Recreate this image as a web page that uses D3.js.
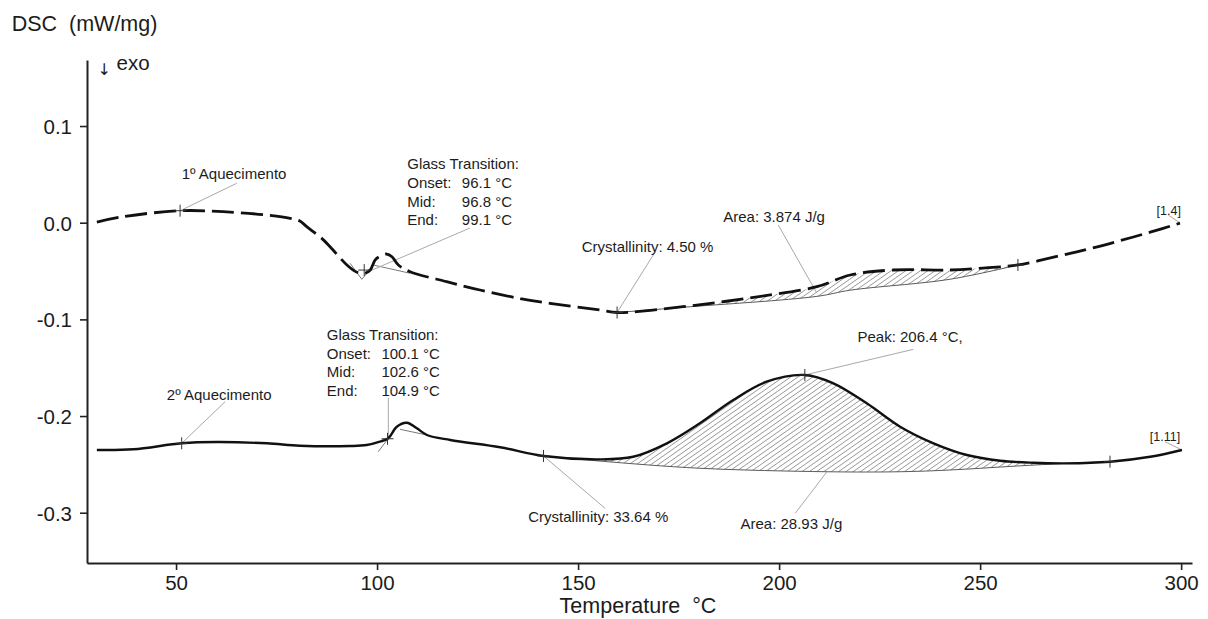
<!DOCTYPE html>
<html>
<head>
<meta charset="utf-8">
<script src="https://cdn.jsdelivr.net/npm/d3@7"></script>
<style>
  html, body { margin: 0; padding: 0; background: #fff; }
  svg { display: block; font-family: Arial, "Liberation Sans", sans-serif; }
</style>
</head>
<body>
<svg id="chart" width="1208" height="619"></svg>
<script>
// ---- DSC curves: temperature (°C) and heat flow (mW/mg) ----
const temp1 = [30.3, 36.8, 51.0, 61.7, 72.6, 78.4, 80.8, 82.5, 84.1, 85.8, 88.3, 92.5, 95.0, 97.0, 98.3, 99.5,
               100.8, 102.4, 103.7, 105.3, 108.2, 117.3, 125.6, 135.6, 143.0, 155.5, 159.7, 176.1, 192.8, 209.4,
               217.7, 228.4, 242.5, 250.7, 259.4, 269.9, 277.3, 284.8, 292.3, 299.7];
const dsc1  = [0.0007, 0.0062, 0.0124, 0.0114, 0.0079, 0.0045, 0.0017, -0.0041, -0.0093, -0.0145, -0.0248, -0.0437,
               -0.0513, -0.0523, -0.0489, -0.0386, -0.0345, -0.0324, -0.0352, -0.0438, -0.0507, -0.0610, -0.0696,
               -0.0785, -0.0834, -0.0903, -0.0929, -0.0869, -0.0777, -0.0662, -0.0541, -0.0489, -0.0489, -0.0469,
               -0.0437, -0.0341, -0.0269, -0.0186, -0.0098, -0.0005];

const temp2 = [30.3, 39.4, 51.4, 60.1, 72.6, 80.8, 93.3, 97.4, 100.7, 102.8, 104.9, 107.4, 109.9, 112.4, 118.2,
               130.6, 141.4, 155.5, 163.7, 172.1, 180.3, 188.6, 196.9, 206.4, 213.5, 221.8, 230.1, 238.4, 246.7,
               255.0, 263.2, 271.6, 282.3, 292.3, 300.2];
const dsc2  = [-0.2351, -0.2344, -0.2282, -0.2269, -0.2282, -0.2307, -0.2310, -0.2300, -0.2265, -0.2230, -0.2110,
               -0.2069, -0.2127, -0.2196, -0.2248, -0.2323, -0.2413, -0.2448, -0.2421, -0.2282, -0.2075, -0.1834,
               -0.1645, -0.1575, -0.1661, -0.1868, -0.2110, -0.2282, -0.2403, -0.2462, -0.2483, -0.2489, -0.2472,
               -0.2421, -0.2351];

// ---- integration baselines under the crystallisation peaks ----
const baseTemp1 = [159.7, 176.1, 209.4, 217.7, 242.5, 259.4];
const baseDsc1  = [-0.0929, -0.0875, -0.0762, -0.0698, -0.0585, -0.0437];
const baseTemp2 = [141.4, 155.5, 180.3, 211.9, 230.1, 242.5, 259.1, 271.6, 282.3];
const baseDsc2  = [-0.2413, -0.2466, -0.2540, -0.2576, -0.2576, -0.2558, -0.2517, -0.2489, -0.2472];

// ---- evaluation markers (+) ----
const marks1 = [[51.0, 0.0124], [96.8, -0.0490], [159.7, -0.0929], [259.4, -0.0437]];
const marks2 = [[51.4, -0.2282], [102.6, -0.2235], [141.4, -0.2413], [206.4, -0.1575], [282.3, -0.2472]];

// ---- glass transition tangents ----
const tangents = [
  [[93.3, -0.0420], [96.2, -0.0585]],
  [[96.2, -0.0585], [97.8, -0.0507]],
  [[99.1, -0.0438], [108.2, -0.0523]],
  [[100.3, -0.2369], [104.9, -0.2113]],
  [[105.7, -0.2137], [112.4, -0.2196]]
];

// ---- axis ticks ----
const xMajor = [50, 100, 150, 200, 250, 300];
const xTickLabels = ["50", "100", "150", "200", "250", "300"];
const xMinor = d3.range(30, 301, 10);
const yMajor = [-0.3, -0.2, -0.1, 0.0, 0.1];
const yTickLabels = ["-0.3", "-0.2", "-0.1", "0.0", "0.1"];
const yMinor = d3.range(-34, 17, 2).map(v => v / 100);

// ---- text annotations: [text, T, DSC] anchors and leader lines ----
const notes = [
  ["1º Aquecimento", 51.4, 0.0452],
  ["2º Aquecimento", 47.7, -0.1834],
  ["Crystallinity: 4.50 %", 150.9, -0.0300],
  ["Area: 3.874 J/g", 186.1, 0.0010],
  ["Peak: 206.4 °C,", 219.5, -0.1231],
  ["Crystallinity: 33.64 %", 137.6, -0.3091],
  ["Area: 28.93 J/g", 190.4, -0.3170]
];
const smallNotes = [
  ["[1.4]", 293.9, 0.0080],
  ["[1.11]", 292.2, -0.2255]
];
const gtLabels = ["Onset:", "Mid:", "End:"];
const gt1Values = ["96.1 °C", "96.8 °C", "99.1 °C"];
const gt2Values = ["100.1 °C", "102.6 °C", "104.9 °C"];
const gtAnchors = [[107.5, 0.0552], [87.5, -0.1213]];
const leaders = [
  [[65.1, 0.0408], [51.0, 0.0124]],
  [[62.2, -0.1852], [51.4, -0.2282]],
  [[123.1, -0.0055], [97.8, -0.0507]],
  [[102.8, -0.1813], [102.8, -0.2230]],
  [[168.7, -0.0334], [159.7, -0.0929]],
  [[199.8, -0.0024], [209.4, -0.0730]],
  [[296.8, 0.0080], [299.7, -0.0003]],
  [[233.4, -0.1310], [206.4, -0.1575]],
  [[296.0, -0.2265], [300.2, -0.2351]],
  [[156.7, -0.2954], [141.4, -0.2413]],
  [[204.0, -0.3006], [211.9, -0.2576]]
];

const svg = d3.select("#chart");
const x = d3.scaleLinear().domain([27.85, 302.7]).range([87, 1192]);
const y = d3.scaleLinear().domain([-0.352, 0.1683]).range([563, 60]);
const ink = "#1c1c1c";

// hatch pattern for the integrated peak areas
const defs = svg.append("defs");
defs.append("pattern")
  .attr("id", "hatch").attr("patternUnits", "userSpaceOnUse")
  .attr("width", 12).attr("height", 4.2)
  .attr("patternTransform", "rotate(-35)")
  .append("line")
  .attr("x1", 0).attr("y1", 2.1).attr("x2", 12).attr("y2", 2.1)
  .attr("stroke", "#8a8a8a").attr("stroke-width", 0.8);

const line = d3.line().x(d => x(d[0])).y(d => y(d[1])).curve(d3.curveCatmullRom.alpha(0.5));
const pts1 = temp1.map((t, i) => [t, dsc1[i]]);
const pts2 = temp2.map((t, i) => [t, dsc2[i]]);
const bpts1 = baseTemp1.map((t, i) => [t, baseDsc1[i]]);
const bpts2 = baseTemp2.map((t, i) => [t, baseDsc2[i]]);

// region between a curve (above) and its baseline (below)
function hatchArea(id, curvePts, basePts) {
  const t0 = basePts[0][0], t1 = basePts[basePts.length - 1][0];
  const below = line(curvePts) + `L${x(curvePts[curvePts.length - 1][0])},619L${x(curvePts[0][0])},619Z`;
  const above = line(basePts) + `L${x(t1)},0L${x(t0)},0Z`;
  defs.append("clipPath").attr("id", id + "a").append("path").attr("d", below);
  defs.append("clipPath").attr("id", id + "b").append("path").attr("d", above);
  svg.append("g").attr("clip-path", `url(#${id}a)`)
    .append("g").attr("clip-path", `url(#${id}b)`)
    .append("rect")
    .attr("x", x(t0)).attr("y", 0)
    .attr("width", x(t1) - x(t0)).attr("height", 619)
    .attr("fill", "url(#hatch)");
}
hatchArea("h1", pts1, bpts1);
hatchArea("h2", pts2, bpts2);

// baselines and tangents
[bpts1, bpts2].forEach(b => svg.append("path").attr("d", line(b))
  .attr("fill", "none").attr("stroke", "#5a5a5a").attr("stroke-width", 1));
tangents.forEach(t => svg.append("line")
  .attr("x1", x(t[0][0])).attr("y1", y(t[0][1]))
  .attr("x2", x(t[1][0])).attr("y2", y(t[1][1]))
  .attr("stroke", "#7a7a7a").attr("stroke-width", 1));

// leader lines
leaders.forEach(l => svg.append("line")
  .attr("x1", x(l[0][0])).attr("y1", y(l[0][1]))
  .attr("x2", x(l[1][0])).attr("y2", y(l[1][1]))
  .attr("stroke", "#a8a8a8").attr("stroke-width", 1));

// curves
svg.append("path").attr("d", line(pts1))
  .attr("fill", "none").attr("stroke", "#111").attr("stroke-width", 2.8)
  .attr("stroke-dasharray", "22,7");
svg.append("path").attr("d", line(pts2))
  .attr("fill", "none").attr("stroke", "#111").attr("stroke-width", 2.4);

// evaluation markers
marks1.concat(marks2).forEach(m => {
  const cx = x(m[0]), cy = y(m[1]);
  svg.append("path").attr("d", `M${cx - 6},${cy}H${cx + 6}M${cx},${cy - 6}V${cy + 6}`)
    .attr("stroke", "#333").attr("stroke-width", 1);
});

// axes
const gx = svg.append("g").attr("transform", "translate(0,563)");
gx.call(d3.axisBottom(x).tickValues(xMinor).tickSize(4).tickFormat("").tickSizeOuter(0));
gx.call(d3.axisBottom(x).tickValues(xMajor).tickSize(7).tickSizeOuter(0)
  .tickFormat((d, i) => xTickLabels[i]));
gx.selectAll("text").attr("y", 27).attr("dy", 0)
  .attr("font-size", 20.5).attr("fill", ink).attr("font-family", "Arial, 'Liberation Sans', sans-serif");

const gy = svg.append("g").attr("transform", "translate(87,0)");
gy.call(d3.axisLeft(y).tickValues(yMinor).tickSize(4).tickFormat("").tickSizeOuter(0));
gy.call(d3.axisLeft(y).tickValues(yMajor).tickSize(7).tickSizeOuter(0)
  .tickFormat((d, i) => yTickLabels[i]));
gy.selectAll("text").attr("x", -15).attr("dy", "0.36em")
  .attr("font-size", 20.5).attr("fill", ink).attr("font-family", "Arial, 'Liberation Sans', sans-serif");

svg.selectAll(".domain").attr("stroke", "#222").attr("stroke-width", 2);
svg.selectAll(".tick line").attr("stroke", "#222").attr("stroke-width", 1.6);

// axis titles
svg.append("text").attr("x", 11.7).attr("y", 30.7)
  .style("white-space", "pre").attr("font-size", 21.5).attr("fill", ink)
  .text("DSC  (mW/mg)");
svg.append("text").attr("x", 638).attr("y", 613).attr("text-anchor", "middle")
  .style("white-space", "pre").attr("font-size", 21.5).attr("fill", ink)
  .text("Temperature  °C");
svg.append("text").attr("x", 97.5).attr("y", 75).attr("font-size", 16)
  .attr("font-family", "'DejaVu Sans', sans-serif").attr("fill", ink).text("↓");
svg.append("text").attr("x", 116.5).attr("y", 70).attr("font-size", 20.5).attr("fill", ink).text("exo");

// annotations
notes.forEach(n => svg.append("text")
  .attr("x", x(n[1])).attr("y", y(n[2]))
  .attr("font-size", 15).attr("fill", ink).text(n[0]));
smallNotes.forEach(n => svg.append("text")
  .attr("x", x(n[1])).attr("y", y(n[2]))
  .attr("font-size", 12.5).attr("fill", ink).text(n[0]));

[gt1Values, gt2Values].forEach((vals, k) => {
  const ax = x(gtAnchors[k][0]), ay = y(gtAnchors[k][1]);
  svg.append("text").attr("x", ax).attr("y", ay)
    .attr("font-size", 15).attr("fill", ink).text("Glass Transition:");
  gtLabels.forEach((lab, i) => {
    const ly = ay + 18.6 * (i + 1);
    svg.append("text").attr("x", ax).attr("y", ly)
      .attr("font-size", 15).attr("fill", ink).text(lab);
    svg.append("text").attr("x", ax + 54.6).attr("y", ly)
      .attr("font-size", 15).attr("fill", ink).text(vals[i]);
  });
});
</script>
</body>
</html>
